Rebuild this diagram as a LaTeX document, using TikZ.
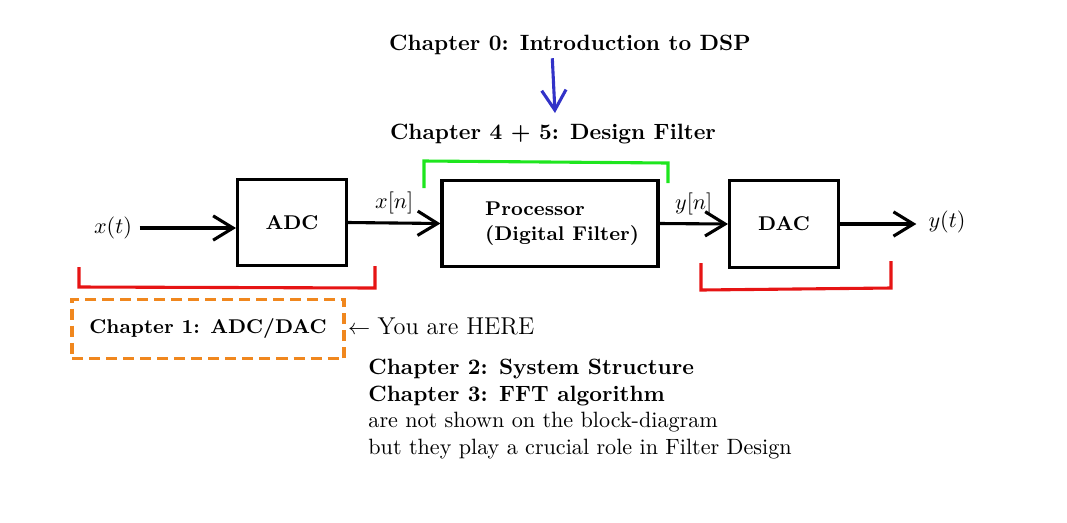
\documentclass[tikz,border=0pt]{standalone}
\usepackage{amsmath, amssymb}
\usepackage{tikz}
\usetikzlibrary{arrows.meta,positioning}
\definecolor{chred}{RGB}{230,20,20}
\definecolor{chgreen}{RGB}{30,230,30}
\definecolor{chorange}{RGB}{240,135,30}
\definecolor{chblue}{RGB}{50,50,200}

\begin{document}
\begin{tikzpicture}[x=0.01588cm,y=-0.01588cm,
  block/.style={draw,line width=1.4pt,font=\small\bfseries,minimum height=1.38cm},
  arr/.style={line width=1.4pt,-{Straight Barb[length=9pt,width=11pt]}},
  brk/.style={line width=1.4pt}]
\useasboundingbox (0,0) rectangle (1067,522);
% titles
\node[font=\bfseries] (ch0) at (570,45) {Chapter 0: Introduction to DSP};
\node[font=\bfseries] (ch45) at (553,134) {Chapter 4 + 5: Design Filter};
\coordinate (bluetip) at (555,113);
\draw[arr,chblue] ([xshift=-8pt,yshift=2pt]ch0.south) -- (bluetip);
% blocks
\node[block,minimum width=1.73cm] (adc) at (292,222.5) {ADC};
\node[block,minimum width=3.43cm,align=left] (proc) at (550,223.5)
  {\hspace*{11pt}Processor\\\hspace*{11pt}(Digital Filter)};
\node[block,minimum width=1.73cm] (dac) at (784,224) {DAC};
\node (xt) at (113,228) {$x(t)$};
\node (yt) at (947,222) {$y(t)$};
\draw[arr] (xt.east) -- (xt.east -| adc.west);
\draw[arr] (adc.east) -- node[above] (xn) {$x[n]$} (proc.west);
\draw[arr] (proc.east) -- node[above] (yn) {$y[n]$} (dac.west);
\draw[arr,shorten >=2pt] (dac.east) -- (dac.east -| yt.west);
% brackets
\draw[brk,chgreen] (424,188) -- (424,161) -- (668,163) -- (668,183);
\draw[brk,chred] (79,267) -- (79,287) -- (375,288) -- (375,266);
\draw[brk,chred] (701,263) -- (701,290) -- (891,288) -- (891,261);
% chapter 1 and notes
\node[draw=chorange,line width=1.4pt,dash pattern=on 5pt off 2.7pt,font=\small\bfseries,
  minimum width=4.32cm,minimum height=0.95cm] (ch1) at (208,329) {Chapter 1: ADC/DAC};
\node[right=1pt of ch1,inner sep=0,yshift=1pt] (here)
  {$\leftarrow$ {\fontsize{11}{13}\selectfont You are HERE}};
\node[anchor=west,align=left,inner sep=0] (note) at (368,409)
  {\textbf{Chapter 2: System Structure}\\
   \textbf{Chapter 3: FFT algorithm}\\
   are not shown on the block-diagram\\
   but they play a crucial role in Filter Design};
\end{tikzpicture}
\end{document}
